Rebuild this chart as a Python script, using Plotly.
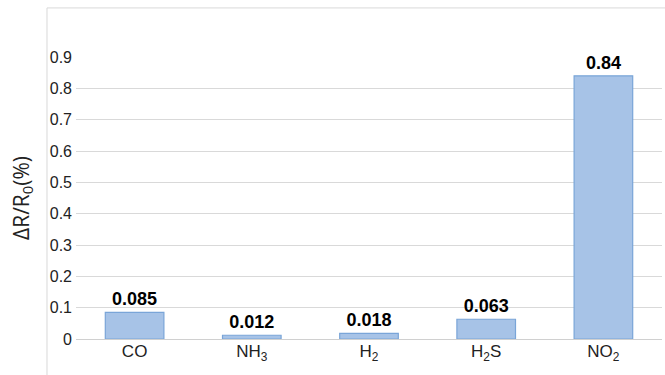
import plotly.graph_objects as go

categories = ["CO", "NH<sub>3</sub>", "H<sub>2</sub>", "H<sub>2</sub>S", "NO<sub>2</sub>"]
values = [0.085, 0.012, 0.018, 0.063, 0.84]
labels = ["0.085", "0.012", "0.018", "0.063", "0.84"]
yticks = [0, 0.1, 0.2, 0.3, 0.4, 0.5, 0.6, 0.7, 0.8, 0.9]

fig = go.Figure()
fig.add_trace(go.Bar(
    x=categories, y=values, text=labels, textposition="outside",
    cliponaxis=False, width=0.5,
    marker=dict(color="#A7C3E7", line=dict(color="#7AA5D8", width=1.2)),
    textfont=dict(family="Liberation Sans, sans-serif", size=18, color="black", weight="bold"),
))

fig.update_layout(
    width=665, height=375,
    margin=dict(l=76, r=3, t=57, b=36),
    paper_bgcolor="white", plot_bgcolor="white",
    showlegend=False, bargap=0.5,
    font=dict(family="Liberation Sans, sans-serif", size=16, color="#222"),
    xaxis=dict(showgrid=False, showline=False, ticks="", tickfont=dict(size=17)),
    yaxis=dict(range=[0, 0.9], tickvals=yticks, ticktext=[("%g" % v) for v in yticks],
               showgrid=True, gridcolor="#D9D9D9", gridwidth=1,
               zeroline=True, zerolinecolor="#D0D0D0", zerolinewidth=1,
               ticks="", ticklabelstandoff=3, tickfont=dict(size=16),
               title=dict(text="ΔR/R<sub>0</sub>(%)", font=dict(family="Open Sans, sans-serif", size=21), standoff=14)),
    shapes=[
        dict(type="line", xref="paper", yref="paper", x0=-0.0495, x1=1.05, y0=1.174, y1=1.174,
             line=dict(color="#D9D9D9", width=1)),
        dict(type="line", xref="paper", yref="paper", x0=-0.0495, x1=-0.0495, y0=1.174, y1=-0.2,
             line=dict(color="#D9D9D9", width=1)),
    ],
)

fig.write_html("out.html")
